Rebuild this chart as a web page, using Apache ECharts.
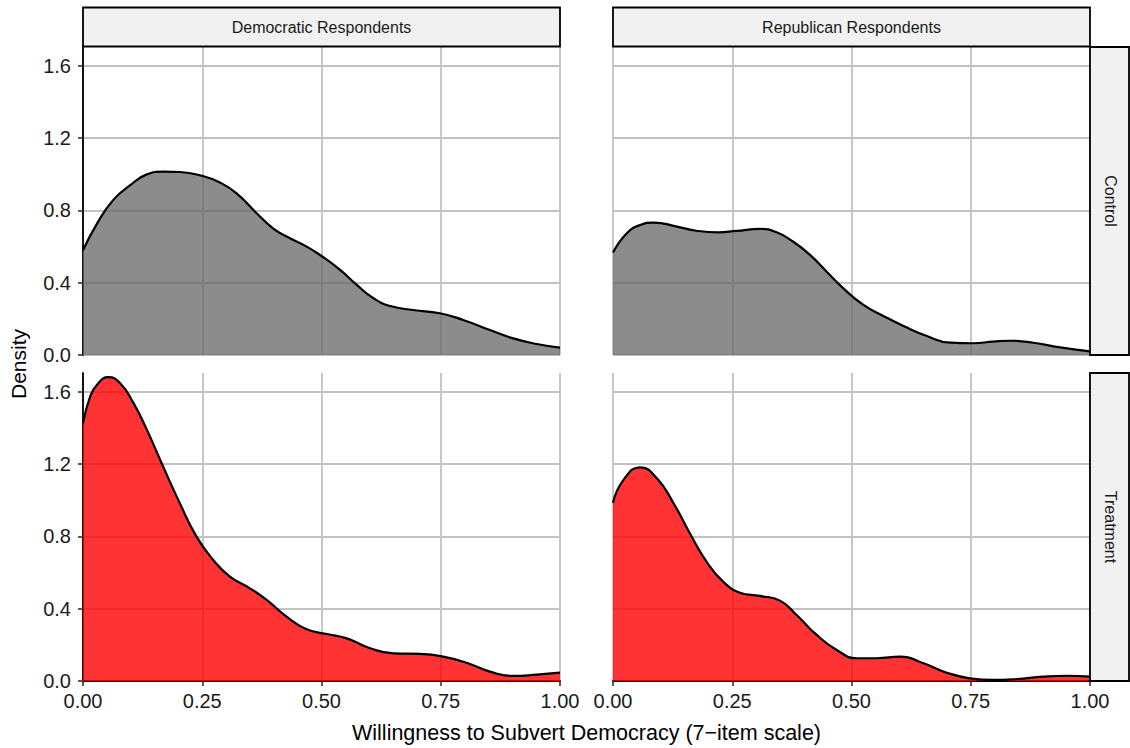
<!DOCTYPE html>
<html>
<head>
<meta charset="utf-8">
<script src="https://cdn.jsdelivr.net/npm/echarts@6/dist/echarts.min.js"></script>
<style>
  html, body { margin: 0; padding: 0; background: #ffffff; }
  #chart { width: 1130px; height: 748px; }
</style>
</head>
<body>
<div id="chart"></div>
<script>
// Facet labels
const columnLabels = ['Democratic Respondents', 'Republican Respondents'];
const rowLabels = ['Control', 'Treatment'];

// Tick values
const xTicks = [0, 0.25, 0.5, 0.75, 1.0];
const yTicks = [0, 0.4, 0.8, 1.2, 1.6];

// Density estimates: willingness score (x) and density (y)
const demControlX = [0, 0.03, 0.064, 0.099, 0.134, 0.168, 0.203, 0.252, 0.287, 0.322, 0.364, 0.399, 0.434, 0.469, 0.5, 0.539, 0.574, 0.609, 0.644, 0.692, 0.748, 0.797, 0.853, 0.902, 0.951, 1.0];
const demControlY = [0.58, 0.73, 0.86, 0.94, 1.0, 1.015, 1.013, 0.99, 0.955, 0.895, 0.785, 0.70, 0.646, 0.60, 0.548, 0.471, 0.388, 0.314, 0.271, 0.249, 0.231, 0.194, 0.138, 0.092, 0.061, 0.041];

const repControlX = [0, 0.029, 0.057, 0.085, 0.134, 0.175, 0.22, 0.259, 0.308, 0.343, 0.378, 0.413, 0.448, 0.483, 0.525, 0.567, 0.609, 0.658, 0.707, 0.755, 0.797, 0.832, 0.881, 0.937, 1.0];
const repControlY = [0.567, 0.674, 0.72, 0.733, 0.711, 0.688, 0.679, 0.687, 0.698, 0.679, 0.627, 0.554, 0.461, 0.369, 0.277, 0.216, 0.161, 0.105, 0.068, 0.065, 0.074, 0.079, 0.068, 0.042, 0.02];

const demTreatX = [0, 0.015, 0.029, 0.053, 0.078, 0.106, 0.134, 0.168, 0.203, 0.238, 0.273, 0.308, 0.35, 0.385, 0.427, 0.469, 0.511, 0.553, 0.602, 0.651, 0.707, 0.755, 0.804, 0.853, 0.902, 0.951, 1.0];
const demTreatY = [1.427, 1.574, 1.639, 1.682, 1.648, 1.538, 1.39, 1.187, 0.984, 0.799, 0.67, 0.578, 0.513, 0.449, 0.356, 0.286, 0.26, 0.236, 0.181, 0.153, 0.15, 0.135, 0.101, 0.052, 0.028, 0.035, 0.046];

const repTreatX = [0, 0.022, 0.057, 0.092, 0.127, 0.161, 0.196, 0.231, 0.266, 0.308, 0.35, 0.385, 0.427, 0.469, 0.511, 0.553, 0.602, 0.651, 0.7, 0.748, 0.797, 0.846, 0.902, 0.951, 1.0];
const repTreatY = [0.987, 1.113, 1.183, 1.122, 0.984, 0.818, 0.661, 0.55, 0.489, 0.471, 0.445, 0.365, 0.255, 0.172, 0.126, 0.126, 0.135, 0.098, 0.046, 0.015, 0.006, 0.011, 0.024, 0.029, 0.024];

const X_TITLE = 'Willingness to Subvert Democracy (7\u2212item scale)';
const Y_TITLE = 'Density';

// Panel geometry (pixels)
const PANEL_W = 477, PANEL_H = 308;
const COL_LEFT = [83, 613];
const ROW_TOP = [47, 373];
const Y_MAX = 1.705;

const FONT = '"Liberation Sans", Arial, Helvetica, sans-serif';
const GRID_COLOR = '#c2c2c2';
const FILLS = ['rgba(102,102,102,0.75)', 'rgba(255,0,0,0.8)'];

const panels = [
  { row: 0, col: 0, xs: demControlX, ys: demControlY },
  { row: 0, col: 1, xs: repControlX, ys: repControlY },
  { row: 1, col: 0, xs: demTreatX, ys: demTreatY },
  { row: 1, col: 1, xs: repTreatX, ys: repTreatY }
];

const zip = (xs, ys) => xs.map((x, i) => [x, ys[i]]);

const grids = [], xAxes = [], yAxes = [], series = [];
panels.forEach((p, i) => {
  const bottomRow = p.row === 1;
  const leftCol = p.col === 0;
  grids.push({ left: COL_LEFT[p.col], top: ROW_TOP[p.row], width: PANEL_W, height: PANEL_H, containLabel: false });
  xAxes.push({
    type: 'value', gridIndex: i, min: 0, max: 1, interval: 0.25,
    axisLine: { show: bottomRow, onZero: false, lineStyle: { color: '#000', width: 1.8 } },
    axisTick: { show: bottomRow, length: 5, lineStyle: { color: '#333', width: 1.6 } },
    axisLabel: {
      show: bottomRow, margin: 10, fontSize: 20, color: '#1a1a1a', fontFamily: FONT,
      formatter: v => xTicks.includes(v) ? v.toFixed(2) : ''
    },
    splitLine: { show: true, lineStyle: { color: GRID_COLOR, width: 1.8 } }
  });
  yAxes.push({
    type: 'value', gridIndex: i, min: 0, max: Y_MAX, interval: 0.4,
    axisLine: { show: leftCol, lineStyle: { color: '#000', width: 1.8 } },
    axisTick: { show: leftCol, length: 5, lineStyle: { color: '#333', width: 1.6 } },
    axisLabel: {
      show: leftCol, margin: 12, fontSize: 20, color: '#1a1a1a', fontFamily: FONT,
      showMaxLabel: false,
      formatter: v => yTicks.some(t => Math.abs(t - v) < 1e-9) ? v.toFixed(1) : ''
    },
    splitLine: { show: true, showMaxLine: false, lineStyle: { color: GRID_COLOR, width: 1.8 } }
  });
  series.push({
    type: 'line', xAxisIndex: i, yAxisIndex: i,
    data: zip(p.xs, p.ys),
    smooth: 0.5, showSymbol: false, symbol: 'none',
    lineStyle: { color: '#000', width: 2.2 },
    areaStyle: { color: FILLS[p.row], opacity: 1, origin: 'start' },
    silent: true, animation: false
  });
});

// Facet strips
const graphics = [];
columnLabels.forEach((label, c) => {
  graphics.push({
    type: 'rect', shape: { x: COL_LEFT[c], y: 7.5, width: PANEL_W, height: 39 },
    style: { fill: '#f1f1f1', stroke: '#000', lineWidth: 1.8 }, z: 10
  });
  graphics.push({
    type: 'text', x: COL_LEFT[c] + PANEL_W / 2, y: 27,
    style: { text: label, fill: '#1a1a1a', font: '16px ' + FONT, textAlign: 'center', textVerticalAlign: 'middle' }, z: 11
  });
});
rowLabels.forEach((label, r) => {
  graphics.push({
    type: 'rect', shape: { x: COL_LEFT[1] + PANEL_W, y: ROW_TOP[r], width: 39, height: PANEL_H },
    style: { fill: '#f1f1f1', stroke: '#000', lineWidth: 1.8 }, z: 10
  });
  graphics.push({
    type: 'text', x: COL_LEFT[1] + PANEL_W + 20, y: ROW_TOP[r] + PANEL_H / 2, rotation: -Math.PI / 2,
    style: { text: label, fill: '#1a1a1a', font: '16px ' + FONT, textAlign: 'center', textVerticalAlign: 'middle' }, z: 11
  });
});
// Axis titles
graphics.push({
  type: 'text', x: (COL_LEFT[0] + COL_LEFT[1] + PANEL_W) / 2, y: 733,
  style: { text: X_TITLE, fill: '#000', font: '21.5px ' + FONT, textAlign: 'center', textVerticalAlign: 'middle' }
});
graphics.push({
  type: 'text', x: 18, y: (ROW_TOP[0] + ROW_TOP[1] + PANEL_H) / 2, rotation: Math.PI / 2,
  style: { text: Y_TITLE, fill: '#000', font: '21px ' + FONT, textAlign: 'center', textVerticalAlign: 'middle' }
});

const chart = echarts.init(document.getElementById('chart'), null, { renderer: 'svg', width: 1130, height: 748 });
chart.setOption({
  backgroundColor: '#ffffff',
  animation: false,
  grid: grids,
  xAxis: xAxes,
  yAxis: yAxes,
  series: series,
  graphic: graphics
});
</script>
</body>
</html>
